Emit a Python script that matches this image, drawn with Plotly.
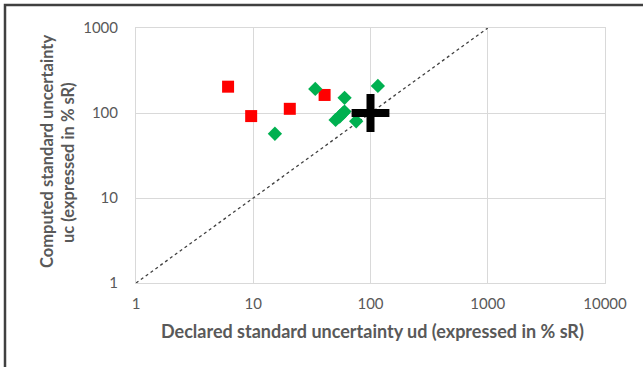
import plotly.graph_objects as go

# Data
red_x = [6.1, 9.6, 20.5, 40.6]
red_y = [204, 92, 112, 163]
green_x = [15.3, 33.8, 60.1, 50.4, 54.6, 58.0, 60.0, 75.5, 115.6]
green_y = [57, 192, 151, 83, 91, 99, 104, 80, 208]
ref_x = [100]
ref_y = [100]
diag_x = [1, 1000]
diag_y = [1, 1000]
x_ticks = [1, 10, 100, 1000, 10000]
y_ticks = [1, 10, 100, 1000]

FONT = "Lato"
GREY = "#595959"

fig = go.Figure()
fig.add_trace(go.Scatter(x=diag_x, y=diag_y, mode="lines",
                         line=dict(color="#404040", width=1.3, dash="3px,3px"),
                         showlegend=False, hoverinfo="skip"))
fig.add_trace(go.Scatter(x=red_x, y=red_y, mode="markers",
                         marker=dict(symbol="square", size=12, color="#FF0000"),
                         showlegend=False))
fig.add_trace(go.Scatter(x=green_x, y=green_y, mode="markers",
                         marker=dict(symbol="diamond", size=11, color="#00B050"),
                         showlegend=False))
fig.add_trace(go.Scatter(x=ref_x, y=ref_y, mode="markers",
                         marker=dict(symbol="cross-thin", size=27,
                                     line=dict(color="black", width=8)),
                         showlegend=False))

axis_common = dict(type="log", showgrid=True, gridcolor="#D9D9D9", gridwidth=1,
                   showline=True, linecolor="#D9D9D9", linewidth=1, mirror=True,
                   zeroline=False, ticks="", tickfont=dict(family=FONT, size=15, color=GREY))

fig.update_xaxes(range=[0, 4], tickvals=x_ticks, ticktext=[str(v) for v in x_ticks],
                 ticklabelstandoff=7, **axis_common)
fig.update_yaxes(range=[0, 3], tickvals=y_ticks, ticktext=[str(v) for v in y_ticks],
                 ticklabelstandoff=14, **axis_common)

def px_x(p):
    return (p - 136) / 469

def px_y(p):
    return (283 - p) / 255

fig.add_annotation(text="<b>Declared standard uncertainty ud (expressed in % sR)</b>",
                   xref="paper", yref="paper", x=px_x(372), y=px_y(331),
                   showarrow=False, font=dict(family=FONT, size=18, color=GREY),
                   xanchor="center", yanchor="middle")
fig.add_annotation(text="<b>Computed standard uncertainty</b>",
                   xref="paper", yref="paper", x=px_x(47), y=px_y(152),
                   showarrow=False, textangle=-90, font=dict(family=FONT, size=16.5, color=GREY),
                   xanchor="center", yanchor="middle")
fig.add_annotation(text="<b>uc (expressed in % sR)</b>",
                   xref="paper", yref="paper", x=px_x(68), y=px_y(163),
                   showarrow=False, textangle=-90, font=dict(family=FONT, size=16.5, color=GREY),
                   xanchor="center", yanchor="middle")

fig.add_shape(type="rect", xref="paper", yref="paper",
              x0=px_x(5), y0=-0.6, x1=1.3, y1=px_y(5),
              line=dict(color="#404040", width=2.5), layer="below")

fig.update_layout(width=643, height=367, margin=dict(l=136, r=38, t=28, b=84),
                  paper_bgcolor="white", plot_bgcolor="white")

fig.write_html("out.html")
